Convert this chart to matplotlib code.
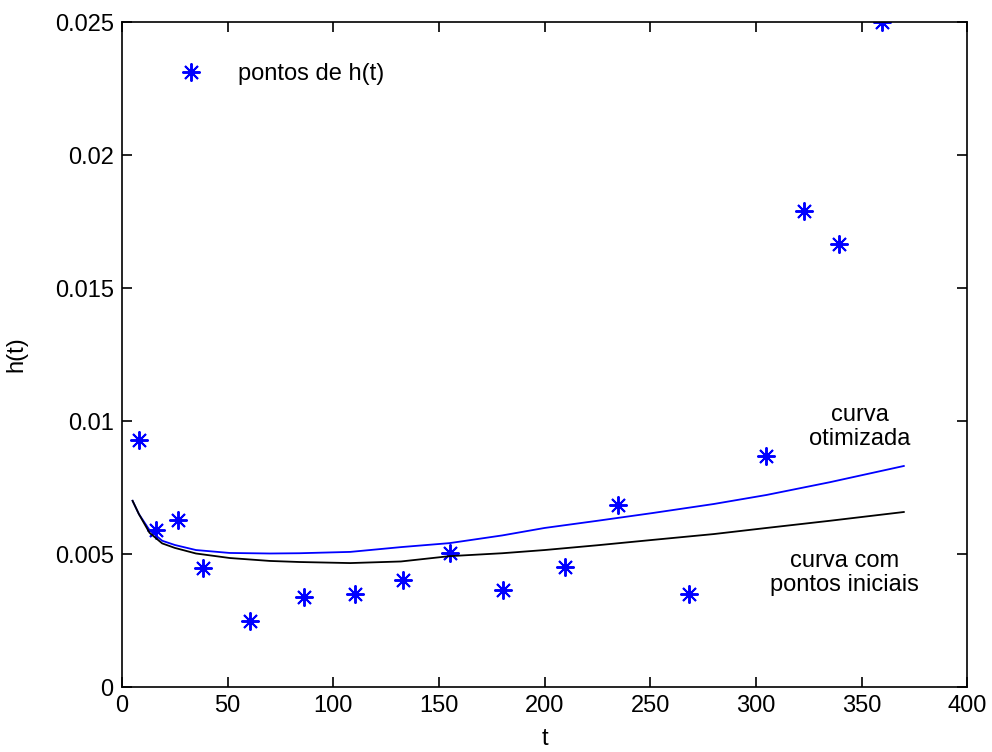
import numpy as np
import matplotlib
matplotlib.use("Agg")
import matplotlib.pyplot as plt

plt.rcParams['font.family'] = ['Liberation Sans', 'DejaVu Sans']

# pontos de h(t)
t_pts = [8.0, 16.1, 26.5, 38.3, 60.6, 86.2, 110.3, 133.0, 155.3, 180.4,
         209.7, 234.8, 268.4, 304.9, 322.8, 339.4, 359.8]
h_pts = [0.00929, 0.0059, 0.00628, 0.00447, 0.00248, 0.00338, 0.0035, 0.00402,
         0.00504, 0.00365, 0.00451, 0.00684, 0.0035, 0.00868, 0.0179, 0.01665, 0.025]

# curves
t_curve = [5, 8, 13, 19, 25, 35, 51, 70, 84, 108, 132, 155, 180, 200,
           225, 251, 280, 305, 335, 370]
h_otim = [0.0070, 0.0065, 0.0059, 0.0055, 0.00534, 0.00515, 0.00504, 0.00502,
          0.00503, 0.00508, 0.00526, 0.00541, 0.0057, 0.00598, 0.00625,
          0.00654, 0.00688, 0.00722, 0.0077, 0.00831]
h_inic = [0.0070, 0.0065, 0.0058, 0.0054, 0.00523, 0.00502, 0.00485, 0.00474,
          0.0047, 0.00466, 0.00472, 0.00492, 0.00503, 0.00515, 0.00533,
          0.00553, 0.00575, 0.00598, 0.00625, 0.00658]

fs = 17

fig = plt.figure(figsize=(9.92, 7.52), dpi=100)
ax = fig.add_axes([0.123, 0.0864, 0.852, 0.8843])

ax.plot(t_pts, h_pts, linestyle='none', marker=(8, 2, 0), markersize=13,
        markeredgewidth=1.4, color='#0000ff', label='pontos de h(t)')
ax.plot(t_curve, h_otim, color='#0000ff', lw=1.3)
ax.plot(t_curve, h_inic, color='black', lw=1.3)

ax.text(349, 0.00977, 'curva\notimizada', ha='center', va='center',
        fontsize=fs, linespacing=1.1)
ax.text(342, 0.00429, 'curva com\npontos iniciais', ha='center', va='center',
        fontsize=fs, linespacing=1.1)

ax.set_xlim(0, 400)
ax.set_ylim(0, 0.025)
ax.set_xticks(np.arange(0, 401, 50))
ax.set_yticks([0, 0.005, 0.01, 0.015, 0.02, 0.025])
ax.set_yticklabels(['0', '0.005', '0.01', '0.015', '0.02', '0.025'])
ax.tick_params(direction='in', top=True, right=True, length=7, width=1.2,
               labelsize=fs, pad=6)
for s in ax.spines.values():
    s.set_linewidth(1.2)

ax.set_xlabel('t', fontsize=fs, labelpad=8)
ax.set_ylabel('h(t)', fontsize=fs, labelpad=20)

ax.legend(loc='upper left', frameon=False, fontsize=fs, handletextpad=1.0,
          bbox_to_anchor=(0.028, 0.97))

fig.savefig('out.png', dpi=100)
